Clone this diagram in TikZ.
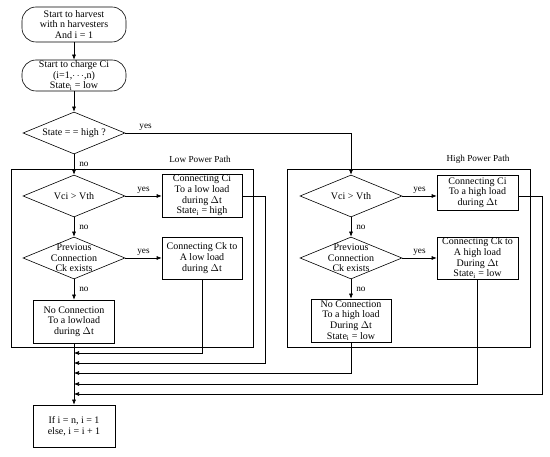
\documentclass[tikz,border=0pt]{standalone}
\usepackage{fontspec}
\setmainfont{Liberation Serif}
\usetikzlibrary{shapes.geometric,arrows.meta}

\begin{document}
\begin{tikzpicture}[x=1pt,y=-1pt,line width=0.6pt,
	font=\fontsize{10}{10.7}\selectfont,
	term/.style={draw, rounded corners=14pt, align=center, inner sep=0pt, minimum width=104pt},
	proc/.style={draw, align=center, inner sep=0pt, minimum width=80pt, minimum height=42pt},
	decision/.style={draw, diamond, inner sep=0pt, minimum width=102pt, minimum height=42pt},
	arr/.style={-{Latex[length=5pt,width=4pt]}},
	lbl/.style={font=\fontsize{9.2}{10}\selectfont, inner sep=2pt}]
	\useasboundingbox (0,0) rectangle (550,457);
	% start and test of the state
	\node[term, minimum height=35pt] (start) at (74,24.5) {Start to harvest\\with n harvesters\\And i = 1};
	\node[term, minimum height=31pt] (charge) at (74,75.5) {Start to charge Ci\\(i=1,${\cdots}$,n)\\State\textsubscript{i} = low};
	\node[decision, label={center:State = = high ?}] (state) at (74,133) {};
	\draw[arr] (start) -- (charge);
	\draw[arr] (charge) -- (state);
	% low power path
	\draw (11,169) rectangle (253,347);
	\node[lbl] (lowtitle) at (200,159) {Low Power Path};
	\node[decision, label={center:Vci > Vth}] (vciL) at (74,196) {};
	\node[decision, label={[align=center]center:Previous\\Connection\\Ck exists}] (prevL) at (74,258) {};
	\node[proc, minimum height=43pt] (ciL) at (202,195.5) {Connecting Ci\\To a low load\\during $\Delta$t\\State\textsubscript{i} = high};
	\node[proc] (ckL) at (202,258) {Connecting Ck to\\A low load\\during $\Delta$t};
	\node[proc, minimum width=81pt, minimum height=43pt] (noL) at (74,321.5) {No Connection\\To a lowload\\during $\Delta$t};
	% high power path
	\draw (287,169) rectangle (530,347);
	\node[lbl] (hightitle) at (478,159) {High Power Path};
	\node[decision, label={center:Vci > Vth}] (vciH) at (351,196) {};
	\node[decision, label={[align=center]center:Previous\\Connection\\Ck exists}] (prevH) at (351,258) {};
	\node[proc, minimum width=81pt, minimum height=35pt] (ciH) at (477.5,192.5) {Connecting Ci\\To a high load\\during $\Delta$t};
	\node[proc, minimum width=81pt] (ckH) at (477.5,258) {Connecting Ck to\\A high load\\During $\Delta$t\\State\textsubscript{i} = low};
	\node[proc, minimum height=43pt] (noH) at (351,320.5) {No Connection\\To a high load\\During $\Delta$t\\State\textsubscript{i} = low};
	% last step
	\node[proc, minimum width=82pt] (last) at (74,426) {If i = n, i = 1\\else, i = i + 1};
	% decisions
	\draw[arr] (state.east) -| node[lbl, above, pos=0.045] (yes0) {yes} (vciH.north);
	\draw[arr] (state) -- node[lbl, right, inner sep=5pt] (no0) {no} (vciL);
	\draw[arr] (vciL) -- node[lbl, above] (yes1) {yes} (ciL.west |- vciL);
	\draw[arr] (vciL) -- node[lbl, right, inner sep=5pt] (no1) {no} (prevL);
	\draw[arr] (prevL) -- node[lbl, above] (yes2) {yes} (ckL);
	\draw[arr] (prevL) -- node[lbl, right, inner sep=5pt] (no2) {no} (noL);
	\draw[arr] (vciH) -- node[lbl, above] (yes3) {yes} (ciH.west |- vciH);
	\draw[arr] (vciH) -- node[lbl, right, inner sep=5pt] (no3) {no} (prevH);
	\draw[arr] (prevH) -- node[lbl, above] (yes4) {yes} (ckH);
	\draw[arr] (prevH) -- node[lbl, right, inner sep=5pt] (no4) {no} (noH);
	% collecting lines
	\coordinate (j1) at (74,353);
	\coordinate (j2) at (74,363);
	\coordinate (j3) at (74,373);
	\coordinate (j4) at (74,384);
	\coordinate (j5) at (74,394);
	\coordinate (t2) at (265,363);
	\coordinate (t5) at (542,394);
	\draw[arr] (noL) -- (last);
	\draw[arr] (ckL.south) |- (j1);
	\draw[arr] (ciL.east |- vciL) -| (t2) -- (j2);
	\draw[arr] (noH.south) |- (j3);
	\draw[arr] (ckH.south) |- (j4);
	\draw[arr] (ciH.east |- vciH) -| (t5) -- (j5);
\end{tikzpicture}
\end{document}
